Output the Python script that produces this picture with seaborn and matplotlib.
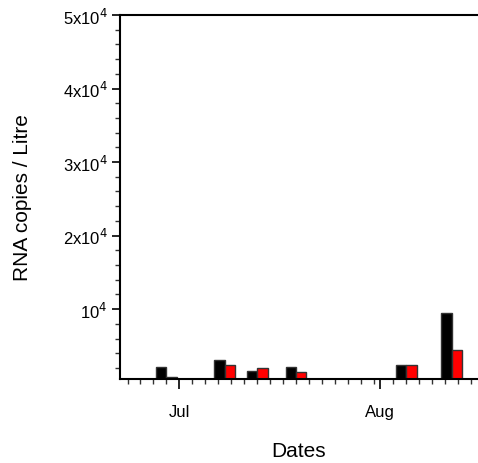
import matplotlib
matplotlib.use("Agg")
import matplotlib.pyplot as plt
import matplotlib.dates as mdates
import matplotlib.ticker as mticker
import seaborn as sns
import pandas as pd

# sample dates and the two RNA targets (copies / litre)
dates = ["2020-06-29", "2020-07-08", "2020-07-13", "2020-07-19", "2020-08-05", "2020-08-12"]
target_a = [2100, 3050, 1570, 2100, 2380, 9450]
target_b = [790, 2340, 1970, 1470, 2470, 4420]
colors = ["#000000", "#ff0000"]

sns.set_style("ticks")
plt.rcParams['font.family'] = ['Liberation Sans', 'DejaVu Sans']
plt.rcParams['text.color'] = 'black'
plt.rcParams['axes.labelcolor'] = 'black'
plt.rcParams['xtick.color'] = 'black'
plt.rcParams['ytick.color'] = 'black'

x_num = mdates.date2num(pd.to_datetime(dates))
df = pd.DataFrame({
    "x": list(x_num) * 2,
    "value": target_a + target_b,
    "target": ["A"] * len(dates) + ["B"] * len(dates),
})

fig = plt.figure(figsize=(4.78, 4.64), dpi=100)
ax = fig.add_axes([0.251, 0.181, 0.749, 0.7845])

sns.barplot(data=df, x="x", y="value", hue="target", palette=colors,
            native_scale=True, width=0.64, dodge=True, gap=0, saturation=1,
            edgecolor="#333333", linewidth=1, ax=ax, legend=False)

ax.set_xlim(mdates.date2num(pd.Timestamp("2020-06-21 20:00")),
            mdates.date2num(pd.Timestamp("2020-08-16 02:00")))
ax.set_ylim(500, 50000)

ax.xaxis.set_major_locator(mdates.MonthLocator())
ax.xaxis.set_major_formatter(mdates.DateFormatter("%b"))
ax.xaxis.set_minor_locator(mdates.DayLocator(bymonthday=range(1, 32, 2)))

def yfmt(v, pos):
    n = int(round(v / 1e4))
    if n == 1:
        return r"10$^4$"
    return r"%dx10$^4$" % n

ax.yaxis.set_major_locator(mticker.MultipleLocator(10000))
ax.yaxis.set_major_formatter(mticker.FuncFormatter(yfmt))
ax.yaxis.set_minor_locator(mticker.MultipleLocator(2000))

ax.tick_params(axis="both", which="major", direction="out", length=6, width=1.2,
               color="#000000", labelsize=12, labelcolor="black")
ax.tick_params(axis="both", which="minor", direction="out", length=3.5, width=1,
               color="#333333")
ax.tick_params(axis="x", which="major", length=7, pad=11)
ax.tick_params(axis="y", which="major", pad=3)

for s in ["left", "bottom", "top"]:
    ax.spines[s].set_linewidth(1.5)
    ax.spines[s].set_color("#000000")
ax.spines["right"].set_visible(False)

ax.set_xlabel("Dates", fontsize=15, labelpad=16, color="black")
ax.set_ylabel("RNA copies / Litre", fontsize=15, labelpad=22, color="black")

fig.savefig("out.png", dpi=100)
